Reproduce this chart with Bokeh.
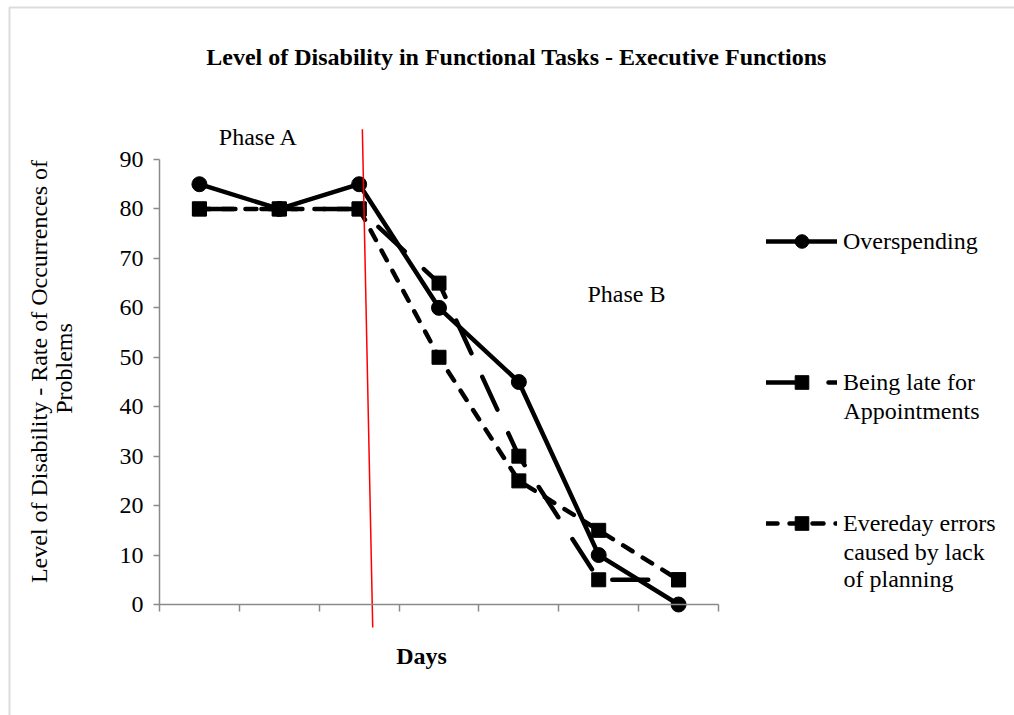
from math import pi

from bokeh.embed import file_html
from bokeh.models import (BoxAnnotation, FixedTicker, Label, Legend,
                          LegendItem, Range1d)
from bokeh.plotting import figure
from bokeh.resources import INLINE

# ---- data -------------------------------------------------------------
days = [1, 2, 3, 4, 5, 6, 7]
overspending = [85, 80, 85, 60, 45, 10, 0]
late_for_appointments = [80, 80, 80, 65, 30, 5, 5]
everyday_errors = [80, 80, 80, 50, 25, 15, 5]

y_ticks = [0, 10, 20, 30, 40, 50, 60, 70, 80, 90]
day_boundaries = [0.5, 1.5, 2.5, 3.5, 4.5, 5.5, 6.5, 7.5]

# phase change marker (slightly slanted line between day 3 and day 4)
phase_line_x = [3.04, 3.17]
phase_line_y = [96.1, -4.65]

# ---- layout -----------------------------------------------------------
# The frame fills the whole canvas; the axes are pinned at day 0.5 / value 0
# so that titles, legends and notes can all live inside the frame.
W, H = 1014, 715
AX_LEFT, AX_RIGHT = 159, 718        # canvas px of day 0.5 and day 7.5
ZERO_PX, NINETY_PX = 604, 159       # canvas px of value 0 and value 90
FONT = "Liberation Serif"
FS = "24px"
AXIS_GREY = "#8a8a8a"

y_px = (ZERO_PX - NINETY_PX) / 90.0
x_px = (AX_RIGHT - AX_LEFT) / 7.0


def dx(px):
    return 0.5 + (px - AX_LEFT) / x_px


def dy(px):
    return (ZERO_PX - px) / y_px


p = figure(width=W, height=H,
           x_range=Range1d(dx(0), dx(W)), y_range=Range1d(dy(H), dy(0)),
           output_backend="svg", toolbar_location=None, min_border=0)
p.outline_line_color = None
p.background_fill_color = "white"
p.border_fill_color = "white"
p.grid.visible = False

# axes
yax = p.yaxis[0]
yax.ticker = FixedTicker(ticks=y_ticks)
yax.bounds = (0, 90)
yax.fixed_location = 0.5
xax = p.xaxis[0]
xax.ticker = FixedTicker(ticks=day_boundaries)
xax.bounds = (0.5, 7.5)
xax.fixed_location = 0
xax.major_label_overrides = {t: "" for t in day_boundaries}
for ax, tick_len in ((yax, 6), (xax, 7)):
    ax.axis_line_color = AXIS_GREY
    ax.axis_line_width = 1.5
    ax.major_tick_line_color = AXIS_GREY
    ax.major_tick_line_width = 1.5
    ax.major_tick_in = 0
    ax.major_tick_out = tick_len
    ax.minor_tick_line_color = None
yax.major_label_text_font = FONT
yax.major_label_text_font_size = FS
yax.major_label_text_color = "black"
yax.major_label_standoff = 10

# series
LW = 4.5
r_over = p.line(days, overspending, line_color="black", line_width=LW,
                line_join="round", line_cap="round")
m_over = p.scatter(days, overspending, marker="circle", size=15,
                   fill_color="black", line_color="black")

r_late = p.line(days, late_for_appointments, line_color="black", line_width=LW,
                line_dash="36 26", line_join="round", line_cap="round")
m_late = p.scatter(days, late_for_appointments, marker="square", size=14,
                   fill_color="black", line_color="black")

r_err = p.line(days, everyday_errors, line_color="black", line_width=LW,
               line_dash="11 12", line_join="round", line_cap="round")
m_err = p.scatter(days, everyday_errors, marker="square", size=14,
                  fill_color="black", line_color="black")

p.line(phase_line_x, phase_line_y, line_color="red", line_width=1.5)

# legends, one per series so each can sit at its own height
ITEM_H = 34


def add_legend(label, renderers, center_px):
    leg = Legend(items=[LegendItem(label=label, renderers=renderers)],
                 location=(766, H - (center_px + ITEM_H / 2)),
                 padding=0, margin=0, spacing=0,
                 border_line_color=None, background_fill_alpha=0,
                 glyph_width=71, glyph_height=ITEM_H, label_height=ITEM_H,
                 label_standoff=6, label_text_font=FONT,
                 label_text_font_size=FS, label_text_color="black")
    p.add_layout(leg)


add_legend("Overspending", [r_over, m_over], 241)
add_legend("Being late for", [r_late, m_late], 382)
add_legend("Evereday errors", [r_err, m_err], 523)


def text(t, x_px_, y_px_, bold=False, align="center", angle=0.0, lh=1.2):
    p.add_layout(Label(x=dx(x_px_), y=dy(y_px_), text=t, angle=angle,
                       text_font=FONT, text_font_size=FS, text_color="black",
                       text_font_style="bold" if bold else "normal",
                       text_align=align, text_baseline="middle",
                       text_line_height=lh))


text("Appointments", 843, 410, align="left")
text("caused by lack", 843, 551, align="left")
text("of planning", 843, 578, align="left")

text("Level of Disability in Functional Tasks - Executive Functions",
     516, 56, bold=True)
text("Phase A", 258, 136)
text("Phase B", 626, 293)
text("Days", 421, 655, bold=True)
text("Level of Disability -  Rate of Occurrences of\nProblems", 51, 368,
     angle=pi / 2, lh=0.98)

# chart area border (runs off the right and bottom edges)
p.add_layout(BoxAnnotation(left=dx(9), right=dx(W + 40),
                           top=dy(7), bottom=dy(H + 40),
                           fill_alpha=0, line_color="#8c8c8c", line_width=2))

open("out.html", "w").write(file_html(p, INLINE))
